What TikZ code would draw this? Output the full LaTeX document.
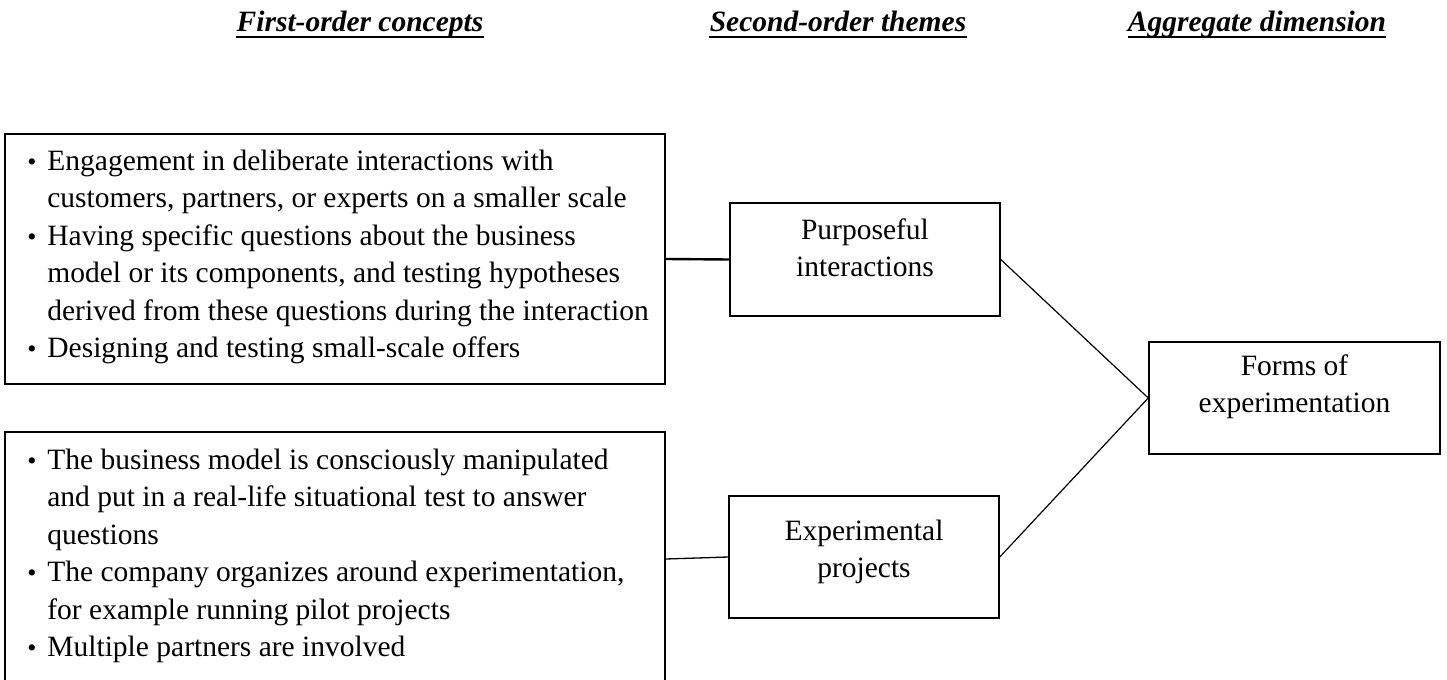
\documentclass[tikz,border=0pt]{standalone}
\usepackage{fontspec}
\setmainfont{Liberation Serif}
\usetikzlibrary{positioning}
\newcommand{\itembullet}{\llap{{\fontsize{13}{13}\selectfont\textbullet}\hspace{5.5pt}}}

\begin{document}
\begin{tikzpicture}[x=0.5pt, y=-0.5pt,
  every node/.style={font=\fontsize{14.75}{18.75}\selectfont, inner sep=0pt},
  framebox/.style={draw, line width=0.75pt},
  headline/.style={line width=1.25pt}]
\useasboundingbox (0,0) rectangle (1447,680);
\node[anchor=base] (hfirst) at (360,32) {\bfseries\itshape First-order concepts};
\node[anchor=base] (hsecond) at (838,32) {\bfseries\itshape Second-order themes};
\node[anchor=base] (haggr) at (1257,32) {\bfseries\itshape Aggregate dimension};
\draw[headline] ([yshift=-2.5pt]hfirst.base west) -- ([yshift=-2.5pt]hfirst.base east);
\draw[headline] ([yshift=-2.5pt]hsecond.base west) -- ([yshift=-2.5pt]hsecond.base east);
\draw[headline] ([yshift=-2.5pt]haggr.base west) -- ([yshift=-2.5pt]haggr.base east);
\node[framebox, minimum width=330pt, minimum height=125pt] (fc1) at (335,259) {};
\node[framebox, minimum width=330pt, minimum height=127pt] (fc2) at (335,559) {};
\node[framebox, minimum width=135pt, minimum height=56.5pt] (pi) at (865,259.5) {};
\node[framebox, minimum width=135pt, minimum height=61pt] (ep) at (864,557) {};
\node[framebox, minimum width=145.5pt, minimum height=56pt] (fe) at (1294.5,398) {};
\node[anchor=base west] (fc1txt) at (47,170) {\begin{tabular}[t]{@{}l@{}}
\itembullet Engagement in deliberate interactions with\\
customers, partners, or experts on a smaller scale\\
\itembullet Having specific questions about the business\\
model or its components, and testing hypotheses\\
derived from these questions during the interaction\\
\itembullet Designing and testing small-scale offers
\end{tabular}};
\node[anchor=base west] (fc2txt) at (47,469) {\begin{tabular}[t]{@{}l@{}}
\itembullet The business model is consciously manipulated\\
and put in a real-life situational test to answer\\
questions\\
\itembullet The company organizes around experimentation,\\
for example running pilot projects\\
\itembullet Multiple partners are involved
\end{tabular}};
\node[anchor=base] (pitxt) at (865,239) {\begin{tabular}[t]{@{}c@{}}Purposeful\\ interactions\end{tabular}};
\node[anchor=base] (eptxt) at (864,540) {\begin{tabular}[t]{@{}c@{}}Experimental\\ projects\end{tabular}};
\node[anchor=base] (fetxt) at (1294.5,375) {\begin{tabular}[t]{@{}c@{}}Forms of\\ experimentation\end{tabular}};
\draw[line width=1.2pt] (fc1.east) -- (pi.west);
\draw[line width=0.65pt] (fc2.east) -- (ep.west);
\draw[line width=0.6pt] (pi.east) -- (fe.west);
\draw[line width=0.6pt] (ep.east) -- (fe.west);
\end{tikzpicture}
\end{document}
